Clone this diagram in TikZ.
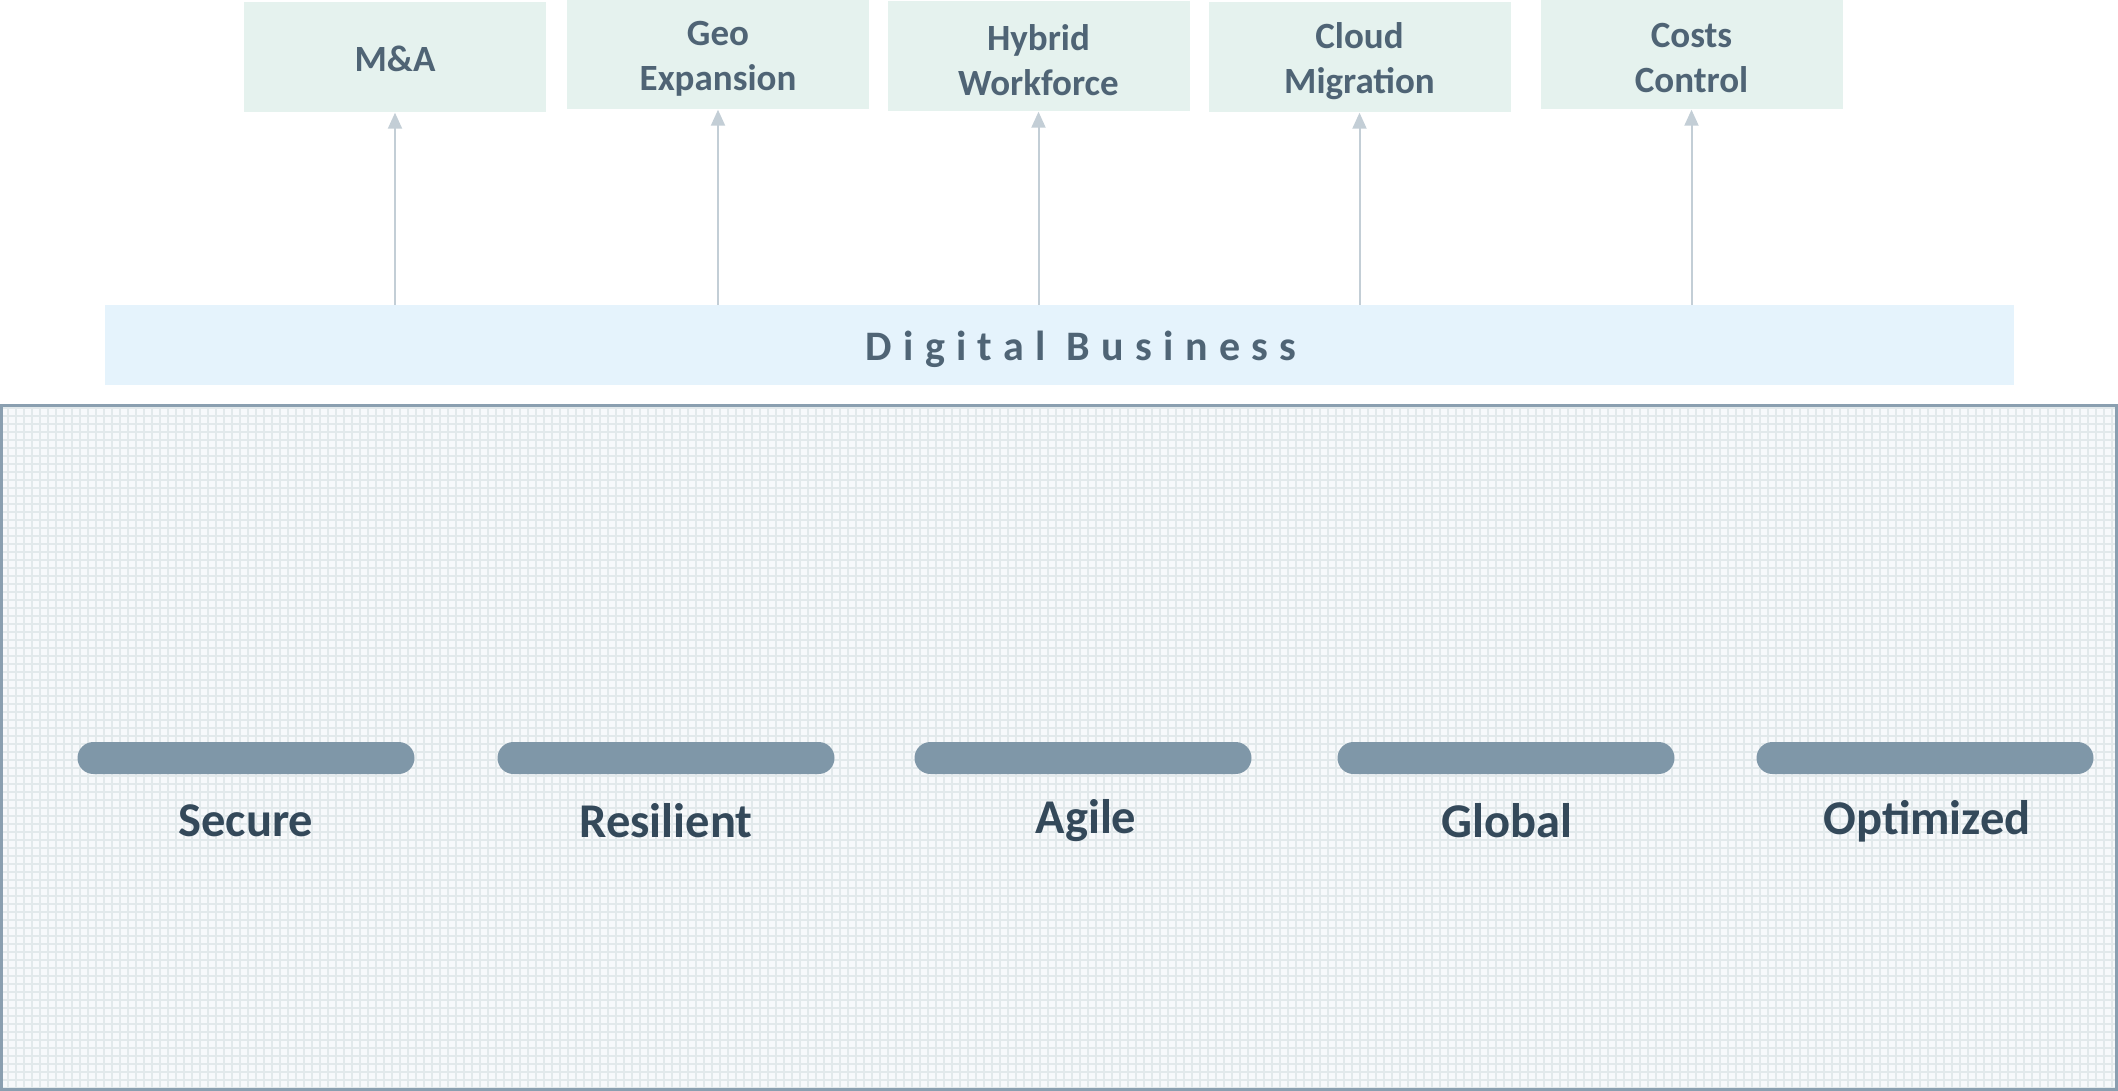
\documentclass[tikz,border=0pt]{standalone}
\usepackage{fontspec}
\setmainfont{Carlito}
\usetikzlibrary{arrows.meta}
\definecolor{topfill}{HTML}{E5F2EE}
\definecolor{digfill}{HTML}{E5F3FC}
\definecolor{toptext}{HTML}{4F6475}
\definecolor{labtext}{HTML}{34495A}
\definecolor{arrowc}{HTML}{C3CED6}
\definecolor{barc}{HTML}{7F97A8}
\definecolor{panelborder}{HTML}{8A9FB0}
\definecolor{cellc}{HTML}{F7F9FB}
\definecolor{gridc}{HTML}{E2E9EB}
\tikzset{
  topbox/.style={fill=topfill, draw=none, minimum width=302pt, minimum height=110pt, inner sep=0pt},
  toplabel/.style={align=center, text=toptext, inner sep=0pt, font=\fontsize{37}{45}\selectfont\bfseries},
  digbox/.style={fill=digfill, draw=none, minimum width=1909pt, minimum height=80pt, inner sep=0pt},
  upconn/.style={draw=arrowc, line width=2pt, -{Triangle[width=14pt,length=16pt]}},
  pillbar/.style={fill=barc, draw=none, minimum width=337pt, minimum height=32pt, rounded corners=16pt, inner sep=0pt},
  pilllabel/.style={text=labtext, font=\fontsize{48.5}{54}\selectfont\bfseries, inner sep=0pt},
}
\begin{document}
\begin{tikzpicture}[x=1pt,y=-1pt]
\useasboundingbox (0,0) rectangle (2118,1091);
% panel
\begin{scope}
\clip (1,405) rectangle (2117,1089);
\fill[cellc] (0,400) rectangle (2118,1091);
\draw[gridc, line width=2pt, step=8pt] (0,400) grid (2118,1091);
\end{scope}
\draw[panelborder, line width=3pt] (1.5,405.5) rectangle (2116.5,1089.5);
% top boxes
\node[topbox] (ma) at (395,57.5) {};
\node[topbox] (geo) at (718,54.5) {};
\node[topbox] (hyb) at (1038.5,56.5) {};
\node[topbox] (cloud) at (1359.5,57.5) {};
\node[topbox] (cost) at (1691.5,54.5) {};
\node[toplabel] (mat) at ([yshift=-1.5pt]ma.center) {M\&A};
\node[toplabel] (geot) at ([yshift=-4pt]geo.center) {Geo\\Expansion};
\node[toplabel] (hybt) at ([yshift=-4pt]hyb.center) {Hybrid\\Workforce};
\node[toplabel] (cloudt) at ([yshift=-4pt]cloud.center) {Cloud\\Migration};
\node[toplabel] (costt) at ([yshift=-4pt]cost.center) {Costs\\Control};
% digital business
\node[digbox] (dig) at (1059.5,345) {};
\node[text=toptext, font=\fontsize{42}{48}\selectfont\bfseries\addfontfeature{LetterSpace=27}, inner sep=0pt] (digtext) at (1081,349) {Digital Business};
% connectors
\foreach \b in {ma,geo,hyb,cloud,cost}{
  \draw[upconn] (dig.north -| \b.south) -- (\b.south);
}
% bars and labels
\node[pillbar] (b1) at (246,758) {};
\node[pillbar] (b2) at (666,758) {};
\node[pillbar] (b3) at (1083,758) {};
\node[pillbar] (b4) at (1506,758) {};
\node[pillbar] (b5) at (1925,758) {};
\node[pilllabel] (l1) at (246,821) {Secure};
\node[pilllabel] (l2) at (666,821) {Resilient};
\node[pilllabel] (l3) at (1086,821) {Agile};
\node[pilllabel] (l4) at (1507,821) {Global};
\node[pilllabel] (l5) at (1927,821) {Optimized};
\end{tikzpicture}
\end{document}
